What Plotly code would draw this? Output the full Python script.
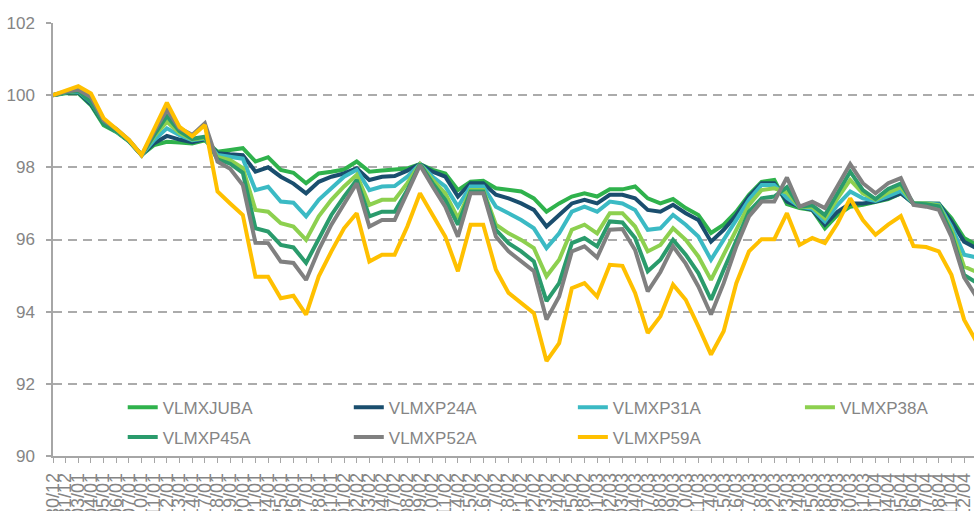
import plotly.graph_objects as go

dates = ["30/12", "31/12",
         "03/01", "04/01", "05/01", "06/01", "07/01", "10/01", "11/01", "12/01", "13/01", "14/01",
         "17/01", "18/01", "19/01", "20/01", "21/01", "24/01", "25/01", "26/01", "27/01", "28/01", "31/01",
         "01/02", "02/02", "03/02", "04/02", "07/02", "08/02", "09/02", "10/02", "11/02", "14/02",
         "15/02", "16/02", "17/02", "18/02", "21/02", "22/02", "23/02", "24/02", "25/02", "28/02",
         "01/03", "02/03", "03/03", "04/03", "07/03", "08/03", "09/03", "10/03", "11/03", "14/03",
         "15/03", "16/03", "17/03", "18/03", "22/03", "23/03", "24/03", "25/03", "28/03", "29/03",
         "30/03", "31/03",
         "01/04", "04/04", "05/04", "06/04", "07/04", "08/04", "11/04", "12/04", "13/04"]

vlmxjuba = [100, 100.05, 100.05, 99.72, 99.17, 98.98, 98.72, 98.34, 98.62, 98.71,
            98.69, 98.66, 98.75, 98.43, 98.48, 98.53, 98.16, 98.28, 97.93, 97.85,
            97.56, 97.83, 97.88, 97.94, 98.16, 97.88, 97.91, 97.93, 97.97, 98.09,
            97.93, 97.83, 97.37, 97.6, 97.63, 97.42, 97.37, 97.33, 97.14, 96.77,
            97.0, 97.19, 97.28, 97.19, 97.39, 97.39, 97.47, 97.14, 97.0, 97.12,
            96.87, 96.68, 96.18, 96.41, 96.77, 97.24, 97.6, 97.65, 96.98, 96.87,
            96.82, 96.31, 96.68, 96.91, 96.96, 97.05, 97.12, 97.28, 97.0, 97.0,
            96.99, 96.59, 96.04, 95.85]

vlmxp24a = [100, 100.07, 100.08, 99.75, 99.22, 99.0, 98.73, 98.34, 98.67, 98.87,
            98.77, 98.7, 98.78, 98.39, 98.36, 98.34, 97.88, 98.0, 97.74, 97.55,
            97.28, 97.6, 97.74, 97.83, 97.97, 97.65, 97.74, 97.76, 97.91, 98.09,
            97.88, 97.74, 97.19, 97.56, 97.56, 97.24, 97.14, 97.0, 96.82, 96.36,
            96.68, 97.0, 97.1, 97.0, 97.24, 97.24, 97.14, 96.82, 96.77, 96.96,
            96.73, 96.54, 95.94, 96.27, 96.68, 97.19, 97.56, 97.56, 97.05, 96.91,
            96.82, 96.41, 96.77, 97.0, 97.0, 97.05, 97.14, 97.28, 97.0, 97.0,
            96.99, 96.5, 95.94, 95.75]

vlmxp31a = [100, 100.08, 100.1, 99.8, 99.25, 99.0, 98.74, 98.34, 98.76, 99.08,
            98.89, 98.75, 98.8, 98.34, 98.3, 98.24, 97.37, 97.46, 97.05, 97.02,
            96.64, 97.1, 97.42, 97.74, 97.93, 97.37, 97.47, 97.48, 97.74, 98.09,
            97.74, 97.47, 96.91, 97.47, 97.47, 96.91, 96.73, 96.54, 96.31, 95.76,
            96.17, 96.77, 96.91, 96.77, 97.05, 97.0, 96.82, 96.27, 96.31, 96.68,
            96.41, 96.08, 95.44, 95.99, 96.54, 97.1, 97.51, 97.51, 97.15, 96.91,
            96.85, 96.5, 96.96, 97.33, 97.14, 97.07, 97.2, 97.35, 97.0, 97.0,
            96.97, 96.36, 95.58, 95.5]

vlmxp38a = [100, 100.08, 100.12, 99.85, 99.27, 99.02, 98.75, 98.34, 98.86, 99.26,
            98.95, 98.77, 98.82, 98.29, 98.2, 97.98, 96.82, 96.77, 96.45, 96.36,
            95.99, 96.64, 97.1, 97.47, 97.79, 96.96, 97.1, 97.1, 97.56, 98.09,
            97.65, 97.28, 96.59, 97.37, 97.37, 96.41, 96.17, 95.99, 95.76, 94.98,
            95.44, 96.27, 96.41, 96.17, 96.73, 96.73, 96.36, 95.67, 95.85, 96.31,
            95.99, 95.53, 94.88, 95.58, 96.27, 96.96, 97.37, 97.42, 97.3, 96.91,
            96.9, 96.59, 97.14, 97.65, 97.28, 97.1, 97.3, 97.45, 97.0, 97.0,
            96.95, 96.27, 95.25, 95.1]

vlmxp45a = [100, 100.08, 100.12, 99.8, 99.22, 99.0, 98.74, 98.34, 98.9, 99.42,
            99.0, 98.79, 98.85, 98.22, 98.1, 97.85, 96.31, 96.22, 95.85, 95.78,
            95.35, 96.04, 96.68, 97.19, 97.65, 96.64, 96.77, 96.77, 97.37, 98.09,
            97.56, 97.1, 96.41, 97.33, 97.33, 96.27, 95.9, 95.67, 95.39, 94.29,
            94.79, 95.9, 96.04, 95.81, 96.5, 96.47, 96.04, 95.12, 95.44, 95.99,
            95.58, 95.07, 94.33, 95.16, 95.99, 96.77, 97.14, 97.19, 97.45, 96.91,
            96.95, 96.68, 97.28, 97.88, 97.37, 97.12, 97.4, 97.55, 97.0, 96.98,
            96.92, 96.17, 95.02, 94.8]

vlmxp52a = [100, 100.1, 100.15, 99.95, 99.3, 99.07, 98.76, 98.34, 99.0, 99.59,
            99.08, 98.9, 99.22, 98.16, 97.96, 97.51, 95.91, 95.9, 95.39, 95.35,
            94.88, 95.71, 96.41, 97.0, 97.56, 96.36, 96.54, 96.54, 97.28, 98.06,
            97.47, 96.91, 96.08, 97.28, 97.28, 96.08, 95.67, 95.39, 95.12, 93.78,
            94.42, 95.67, 95.81, 95.5, 96.27, 96.29, 95.71, 94.56, 95.1, 95.81,
            95.33, 94.7, 93.92, 94.79, 95.81, 96.64, 97.05, 97.05, 97.72, 96.91,
            97.05, 96.87, 97.47, 98.09, 97.56, 97.28, 97.56, 97.7, 96.96, 96.91,
            96.82, 96.08, 94.95, 94.4]

vlmxp59a = [100, 100.12, 100.25, 100.05, 99.36, 99.06, 98.76, 98.34, 99.07, 99.79,
            99.12, 98.86, 99.17, 97.33, 97.0, 96.68, 94.97, 94.97, 94.37, 94.44,
            93.92, 94.98, 95.67, 96.31, 96.73, 95.39, 95.58, 95.58, 96.36, 97.28,
            96.68, 96.08, 95.12, 96.41, 96.41, 95.16, 94.52, 94.24, 93.96, 92.63,
            93.13, 94.65, 94.79, 94.42, 95.3, 95.27, 94.52, 93.41, 93.87, 94.75,
            94.33, 93.59, 92.81, 93.46, 94.79, 95.67, 96.01, 96.01, 96.73, 95.85,
            96.04, 95.9, 96.45, 97.14, 96.54, 96.13, 96.41, 96.65, 95.82, 95.79,
            95.67, 95.02, 93.78, 93.15]

series_names = ["VLMXJUBA", "VLMXP24A", "VLMXP31A", "VLMXP38A",
                "VLMXP45A", "VLMXP52A", "VLMXP59A"]
series_values = [vlmxjuba, vlmxp24a, vlmxp31a, vlmxp38a, vlmxp45a, vlmxp52a, vlmxp59a]
series_colors = ["#2fb24c", "#1a4e6e", "#3bbac4", "#8dd04f", "#2a9b6c", "#808080", "#ffc000"]

W, H = 974, 511
ML, MT = 53.3, 22.7
PB = 456.5
MR = 0
MB = H - PB
plot_w = W - ML - MR
plot_h = PB - MT
step = 12.65

# legend grid: 4 columns, 2 rows (pixel anchors of each entry)
leg_cols = [123, 349, 573, 800]
leg_rows = [408, 438]

txt = "#858585"
font_fam = "Liberation Sans, Arial, sans-serif"

fig = go.Figure()
legend_layouts = {}
for k, (name, vals, col) in enumerate(zip(series_names, series_values, series_colors)):
    lid = "legend" if k == 0 else f"legend{k + 1}"
    fig.add_trace(go.Scatter(x=dates, y=vals, name=name, mode="lines",
                             line=dict(color=col, width=4), legend=lid))
    cx = leg_cols[k % 4]
    ry = leg_rows[k // 4]
    legend_layouts[lid] = dict(
        orientation="h", x=(cx - ML) / plot_w, xanchor="left",
        y=(PB - ry) / plot_h, yanchor="middle",
        font=dict(size=17, color=txt, family=font_fam),
        bgcolor="rgba(0,0,0,0)", borderwidth=0, itemclick=False,
    )

fig.update_layout(
    width=W, height=H,
    margin=dict(l=ML, r=MR, t=MT, b=MB, pad=0),
    paper_bgcolor="white", plot_bgcolor="white",
    font=dict(family=font_fam, color=txt),
    xaxis=dict(type="category", range=[0, plot_w / step], showgrid=False,
               tickmode="array", tickvals=dates, ticktext=dates,
               showline=True, linecolor="#a6a6a6", linewidth=1.5,
               ticks="outside", ticklen=5, tickcolor="#a6a6a6", tickwidth=1,
               tickangle=-90, tickfont=dict(size=18, color=txt),
               ticklabelstandoff=3,
               automargin=False, zeroline=False),
    yaxis=dict(range=[90, 102], dtick=2, tick0=90,
               showgrid=True, gridcolor="#ababab", gridwidth=1.5, griddash="9px,6px",
               showline=True, linecolor="#a6a6a6", linewidth=1.5,
               ticks="outside", ticklen=5, tickcolor="#a6a6a6", tickwidth=1.5,
               ticklabelstandoff=8,
               tickfont=dict(size=17, color=txt), automargin=False, zeroline=False),
    showlegend=True,
    hovermode=False,
    **legend_layouts,
)

fig.write_html("out.html", config={"displayModeBar": False},
               post_script="document.body.style.margin='0px';")
